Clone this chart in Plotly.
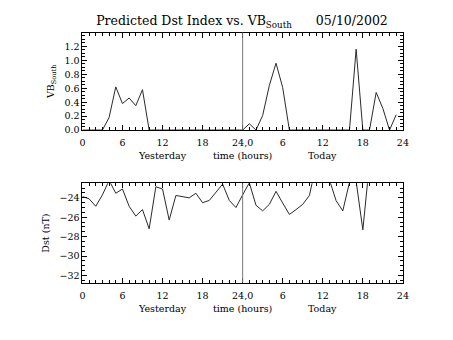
import plotly.graph_objects as go

hours = list(range(48))
vb_south = [0, 0, 0, 0, 0.18, 0.62, 0.38, 0.46, 0.35, 0.58,
            0, 0, 0, 0, 0, 0, 0, 0, 0, 0, 0, 0, 0, 0,
            0, 0.09, 0, 0.21, 0.64, 0.96, 0.61, 0, 0, 0, 0, 0,
            0, 0, 0, 0, 0, 1.16, 0, 0, 0.54, 0.31, 0, 0.22]
dst = [-23.87, -24.10, -24.87, -23.7, -22.2, -23.53, -23.09, -24.87, -25.88, -25.21,
       -27.19, -22.86, -23.09, -26.29, -23.76, -23.87, -24.0, -23.53, -24.5, -24.27,
       -23.43, -22.59, -24.27, -25.0, -23.7, -22.45, -24.77, -25.34, -24.67, -23.33,
       -24.54, -25.71, -25.21, -24.67, -23.76, -20.6, -20.0, -22.05, -24.3, -25.34,
       -22.4, -22.3, -27.3, -20.4, -21.0, -21.5, -20.8, -21.2]
x_tickvals = [0, 6, 12, 18, 24, 30, 36, 42, 48]
x_ticktext = ["0", "6", "12", "18", "24,0", "6", "12", "18", "24"]
vb_ticks = [0.0, 0.2, 0.4, 0.6, 0.8, 1.0, 1.2]
dst_ticks = [-24, -26, -28, -30, -32]
under_labels = [(12, "Yesterday"), (24, "time (hours)"), (36, "Today")]

W, H = 453, 340
FONT = "DejaVu Serif"
FS = 9.5
xl, xr = 81 / W, 408 / W
top_dom = [1 - 132 / H, 1 - 33 / H]
bot_dom = [1 - 287 / H, 1 - 186 / H]

fig = go.Figure()
fig.add_trace(go.Scatter(x=hours, y=vb_south, mode="lines",
                         line=dict(color="#2a2a2a", width=1), xaxis="x", yaxis="y"))
fig.add_trace(go.Scatter(x=hours, y=dst, mode="lines",
                         line=dict(color="#2a2a2a", width=1), xaxis="x2", yaxis="y2"))

xcommon = dict(range=[0, 48], tickvals=x_tickvals, ticktext=x_ticktext,
               ticks="inside", ticklen=5, tickcolor="black", showline=True,
               linecolor="black", linewidth=1, mirror="allticks", showgrid=False,
               zeroline=False, ticklabelstandoff=4,
               tickfont=dict(family=FONT, size=FS, color="black"),
               minor=dict(dtick=1, ticks="inside", ticklen=3, tickcolor="black"))
ycommon = dict(ticks="inside", ticklen=5, tickcolor="black", showline=True,
               linecolor="black", linewidth=1, mirror="allticks", showgrid=False,
               zeroline=False, tickfont=dict(family=FONT, size=FS, color="black"))

fig.update_layout(
    width=W, height=H, margin=dict(l=0, r=0, t=0, b=0),
    paper_bgcolor="white", plot_bgcolor="white", showlegend=False,
    font=dict(family=FONT, color="black"),
    title=dict(text="Predicted Dst Index vs. VB<sub>South</sub>      05/10/2002",
               x=242 / W, xanchor="center", y=1 - 21 / H, yanchor="middle",
               font=dict(family=FONT, size=12.5, color="black")),
    xaxis=dict(domain=[xl, xr], anchor="y", **xcommon),
    xaxis2=dict(domain=[xl, xr], anchor="y2", **xcommon),
    yaxis=dict(domain=top_dom, anchor="x", range=[0, 1.4], tickvals=vb_ticks,
               tickformat=".1f",
               title=dict(text="VB<sub>South</sub>", standoff=8,
                          font=dict(family=FONT, size=FS, color="black")),
               minor=dict(dtick=0.05, ticks="inside", ticklen=3, tickcolor="black"),
               **ycommon),
    yaxis2=dict(domain=bot_dom, anchor="x2", range=[-32.75, -22.5], tickvals=dst_ticks,
                title=dict(text="Dst (nT)", standoff=8,
                           font=dict(family=FONT, size=FS, color="black")),
                minor=dict(dtick=0.5, ticks="inside", ticklen=3, tickcolor="black"),
                **ycommon),
)

for yref in ["y", "y2"]:
    fig.add_shape(type="line", x0=24, x1=24, y0=0, y1=1,
                  xref="x" if yref == "y" else "x2", yref=yref + " domain",
                  line=dict(color="#777777", width=1))

for ax, dom in [("x", top_dom), ("x2", bot_dom)]:
    for xv, txt in under_labels:
        fig.add_annotation(x=xv, xref=ax, y=dom[0] - 26 / H, yref="paper",
                           text=txt, showarrow=False, yanchor="middle",
                           font=dict(family=FONT, size=FS, color="black"))

fig.write_html("out.html")
